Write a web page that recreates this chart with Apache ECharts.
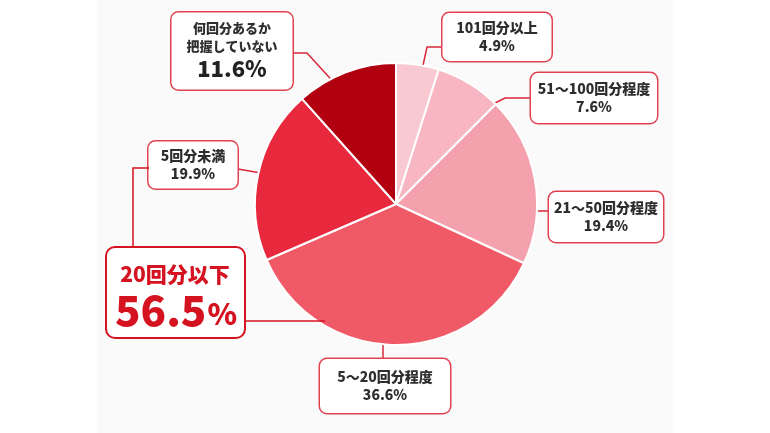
<!DOCTYPE html>
<html style="height: 100%">
<head>
    <meta charset="UTF-8">
    <script src="https://cdn.jsdelivr.net/npm/echarts@6/dist/echarts.min.js"></script>
    <style type="text/css">
        html, body { margin: 0; padding: 0; background: #ffffff; }
    </style>
</head>
<body>
    <div id="paint" style="width: 770px; height: 433px;"></div>
<script>
    // 回答の区分と割合（%）
    var categories = ['101回分以上', '51～100回分程度', '21～50回分程度', '5～20回分程度', '5回分未満', '何回分あるか\n把握していない'];
    var shares = [4.9, 7.6, 19.4, 36.6, 19.9, 11.6];
    var sliceColors = ['#f8c9d1', '#f7b6c1', '#f4a1ad', '#f05a67', '#e8293d', '#b1000f'];
    // 「20回分以下」にまとめる区分
    var groupTitle = '20回分以下';
    var groupIndexes = [3, 4];

    // ラベル枠の位置（中心）・大きさ、引き出し線
    var boxes = [
        {cx: 497, cy: 37,  w: 109, pad: 6,   line: [[443, 47], [427, 47], [422, 70]]},
        {cx: 594, cy: 98,  w: 126, pad: 7,   line: [[531, 98], [505, 98], [485, 108]]},
        {cx: 606, cy: 217, w: 114, pad: 7,   line: [[549, 211], [521, 211]]},
        {cx: 385, cy: 386, w: 130, pad: 9,   line: [[383, 359], [383, 332]]},
        {cx: 193, cy: 165, w: 89,  pad: 5.5, line: [[238, 169], [272, 175]]},
        {cx: 232, cy: 51,  w: 121, pad: 7,   line: [[293, 53], [307, 53], [338, 87]]}
    ];

    var red = '#d5121f';
    var font = '"Noto Sans CJK JP", "Noto Sans", sans-serif';
    var heavy = 900;

    var pieData = categories.map(function (name, i) {
        return {
            name: name,
            value: shares[i],
            itemStyle: {color: sliceColors[i]},
            label: {width: boxes[i].w, padding: [boxes[i].pad, 0]}
        };
    });

    var groupTotal = 0;
    groupIndexes.forEach(function (i) { groupTotal += shares[i]; });

    var chart = echarts.init(document.getElementById('paint'));
    chart.setOption({
        backgroundColor: '#ffffff',
        animation: false,
        graphic: [
            {type: 'rect', z: 0, silent: true, shape: {x: 97, y: 0, width: 576, height: 433}, style: {fill: '#fafafa'}},
            // 20回分以下の枠と括り線
            {type: 'polyline', z: 10, shape: {points: [[149, 168], [133, 168], [133, 247]]}, style: {stroke: red, lineWidth: 1.5, fill: null}},
            {type: 'polyline', z: 10, shape: {points: [[245, 321], [325, 321]]}, style: {stroke: red, lineWidth: 1.5, fill: null}},
            {type: 'rect', z: 10, shape: {x: 106, y: 247, width: 139, height: 91, r: 9}, style: {fill: '#ffffff', stroke: red, lineWidth: 2}},
            {type: 'text', z: 11, x: 175, y: 274, style: {
                text: groupTitle, fill: red, font: heavy + ' 21px ' + font, align: 'center', verticalAlign: 'middle'
            }},
            {type: 'text', z: 11, x: 176, y: 310, style: {
                text: '{a|' + groupTotal.toFixed(1) + '}{b|%}', align: 'center', verticalAlign: 'middle',
                rich: {
                    a: {fill: red, fontSize: 42, fontWeight: heavy, fontFamily: font},
                    b: {fill: red, fontSize: 30, fontWeight: heavy, fontFamily: font, padding: [8, 0, 0, 1]}
                }
            }}
        ],
        series: [
            {
                type: 'pie',
                center: [396, 204],
                radius: 141,
                startAngle: 90,
                clockwise: true,
                data: pieData,
                itemStyle: {borderColor: '#ffffff', borderWidth: 2},
                emphasis: {disabled: true},
                label: {
                    show: true,
                    position: 'outside',
                    backgroundColor: '#ffffff',
                    borderColor: '#e2424f',
                    borderWidth: 1.5,
                    borderRadius: 7,
                    fontFamily: font,
                    fontWeight: heavy,
                    color: '#2e2e2e',
                    formatter: function (p) {
                        var lines = p.name.split('\n');
                        var s = lines.map(function (t) { return '{n' + (lines.length > 1 ? 's' : '') + '|' + t + '}'; }).join('\n');
                        var big = lines.length > 1;
                        return s + '\n{' + (big ? 'b' : 'v') + '|' + p.value.toFixed(1) + '%}';
                    },
                    rich: {
                        n: {fontSize: 14, lineHeight: 18, fontWeight: heavy, color: '#2e2e2e', fontFamily: font, align: 'center'},
                        ns: {fontSize: 13, lineHeight: 18, fontWeight: heavy, color: '#2e2e2e', fontFamily: font, align: 'center'},
                        v: {fontSize: 14, lineHeight: 18, fontWeight: heavy, color: '#2e2e2e', fontFamily: font, align: 'center'},
                        b: {fontSize: 22, lineHeight: 27, fontWeight: heavy, color: '#222222', fontFamily: font, align: 'center'}
                    }
                },
                labelLine: {show: true, showAbove: true, lineStyle: {color: '#d9283a', width: 1.5}},
                labelLayout: function (params) {
                    var b = boxes[params.dataIndex];
                    return {
                        x: b.cx,
                        y: b.cy,
                        align: 'center',
                        verticalAlign: 'middle',
                        labelLinePoints: b.line
                    };
                }
            }
        ]
    });
</script>
</body>
</html>
